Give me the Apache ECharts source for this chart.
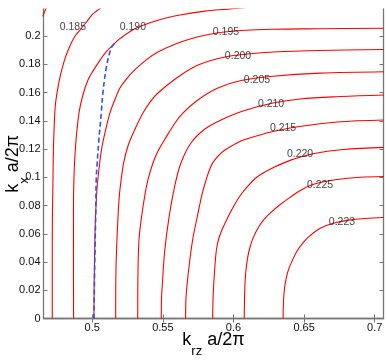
<!DOCTYPE html>
<html><head><meta charset="utf-8">
<script src="https://cdn.jsdelivr.net/npm/echarts@6/dist/echarts.min.js"></script>
<style>html,body{margin:0;padding:0;background:#fff}#c{width:387px;height:360px}</style>
</head><body><div id="c"></div>
<script>
// axis ranges and tick labels
const xRange = [0.4655, 0.7062];
const yRange = [0, 0.2192];
const xTicks = [0.5, 0.55, 0.6, 0.65, 0.7];
const yTicks = [0, 0.02, 0.04, 0.06, 0.08, 0.1, 0.12, 0.14, 0.16, 0.18, 0.2];

// contour lines [k_rz a/2pi, k_x a/2pi]
const c180 = [[0.4650,0.2140],[0.4660,0.2165],[0.4670,0.2190],[0.4674,0.2202]];
const c185 = [[0.4717,0],[0.4717,0.0414],[0.4718,0.0712],[0.4722,0.0981],[0.4725,0.1193],[0.4731,0.1370],[0.4739,0.1512],[0.4754,0.1618],[0.4775,0.1724],[0.4800,0.1817],[0.4824,0.1887],[0.4870,0.1987],[0.4913,0.2043],[0.4959,0.2100],[0.5005,0.2157],[0.5055,0.2195],[0.5062,0.2202]];
const c190 = [[0.4868,0],[0.4867,0.0414],[0.4867,0.0712],[0.4870,0.0981],[0.4882,0.1222],[0.4906,0.1455],[0.4934,0.1583],[0.4970,0.1689],[0.5005,0.1752],[0.5055,0.1830],[0.5097,0.1887],[0.5147,0.1938],[0.5196,0.1982],[0.5309,0.2055],[0.5465,0.2113],[0.5621,0.2149],[0.5798,0.2177],[0.5961,0.2191],[0.6081,0.2202]];
const c195 = [[0.5012,0],[0.5014,0.0273],[0.5019,0.0556],[0.5023,0.0712],[0.5033,0.0910],[0.5047,0.1052],[0.5065,0.1193],[0.5090,0.1315],[0.5125,0.1455],[0.5168,0.1569],[0.5196,0.1632],[0.5239,0.1692],[0.5288,0.1748],[0.5380,0.1830],[0.5465,0.1887],[0.5607,0.1951],[0.5749,0.1996],[0.5904,0.2026],[0.6053,0.2040],[0.6279,0.2049],[0.6612,0.2052],[0.7065,0.2056]];
const c200 = [[0.5166,0],[0.5168,0.0343],[0.5175,0.0556],[0.5182,0.0712],[0.5192,0.0870],[0.5205,0.0985],[0.5222,0.1100],[0.5253,0.1222],[0.5300,0.1335],[0.5359,0.1455],[0.5409,0.1533],[0.5465,0.1597],[0.5607,0.1710],[0.5749,0.1795],[0.5940,0.1852],[0.6117,0.1875],[0.6279,0.1887],[0.6612,0.1898],[0.7065,0.1905]];
const c205 = [[0.5322,0],[0.5324,0.0343],[0.5331,0.0556],[0.5348,0.0712],[0.5373,0.0875],[0.5394,0.0981],[0.5430,0.1101],[0.5465,0.1185],[0.5515,0.1271],[0.5586,0.1385],[0.5642,0.1455],[0.5748,0.1548],[0.5890,0.1632],[0.6053,0.1685],[0.6279,0.1716],[0.6612,0.1738],[0.7065,0.1748]];
const c210 = [[0.5489,0],[0.5490,0.0131],[0.5496,0.0237],[0.5513,0.0478],[0.5543,0.0712],[0.5584,0.0938],[0.5628,0.1101],[0.5699,0.1243],[0.5798,0.1342],[0.5911,0.1406],[0.6067,0.1470],[0.6280,0.1526],[0.6471,0.1555],[0.6754,0.1572],[0.7066,0.1583]];
const c215 = [[0.5661,0],[0.5663,0.0131],[0.5671,0.0237],[0.5690,0.0407],[0.5713,0.0570],[0.5742,0.0712],[0.5784,0.0905],[0.5841,0.1080],[0.5890,0.1150],[0.5940,0.1193],[0.6053,0.1257],[0.6174,0.1296],[0.6280,0.1324],[0.6492,0.1363],[0.6733,0.1392],[0.7065,0.1406]];
const c220 = [[0.5853,0],[0.5855,0.0131],[0.5862,0.0273],[0.5878,0.0478],[0.5897,0.0570],[0.5926,0.0645],[0.5961,0.0718],[0.6004,0.0800],[0.6053,0.0878],[0.6103,0.0940],[0.6152,0.0990],[0.6210,0.1030],[0.6280,0.1068],[0.6400,0.1120],[0.6563,0.1167],[0.6775,0.1197],[0.7066,0.1212]];
const c225 = [[0.6076,0],[0.6078,0.0131],[0.6081,0.0237],[0.6088,0.0340],[0.6100,0.0430],[0.6118,0.0510],[0.6143,0.0580],[0.6175,0.0643],[0.6215,0.0700],[0.6265,0.0752],[0.6329,0.0806],[0.6400,0.0858],[0.6470,0.0905],[0.6542,0.0942],[0.6613,0.0963],[0.6733,0.0985],[0.6896,0.1000],[0.7066,0.1006]];
const c230 = [[0.6351,0],[0.6353,0.0096],[0.6358,0.0181],[0.6368,0.0259],[0.6386,0.0336],[0.6418,0.0414],[0.6450,0.0478],[0.6492,0.0535],[0.6528,0.0574],[0.6584,0.0620],[0.6648,0.0655],[0.6726,0.0680],[0.6804,0.0695],[0.6931,0.0708],[0.7066,0.0715]];

// blue dashed curve
const blueCurve = [[0.5012,0],[0.5016,0.0273],[0.5021,0.0556],[0.5025,0.0747],[0.5028,0.0981],[0.5035,0.1101],[0.5047,0.1264],[0.5064,0.1455],[0.5076,0.1604],[0.5099,0.1774],[0.5123,0.1880],[0.5139,0.1923],[0.5160,0.1951]];

// contour labels (text and the data point each one sits on)
const labelText = ['0.185','0.190','0.195','0.200','0.205','0.210','0.215','0.220','0.225','0.223'];
const labelKrz = [0.4863,0.5288,0.5947,0.6032,0.6166,0.6266,0.6351,0.6471,0.6613,0.6768];
const labelKx  = [0.2067,0.2067,0.2031,0.1859,0.1691,0.1519,0.1349,0.1165,0.0948,0.0683];

const contours = [c180,c185,c190,c195,c200,c205,c210,c215,c220,c225,c230];

const FONT = "'Liberation Sans', Arial, Helvetica, sans-serif";
const axisColor = '#777';
const fmt = v => String(+(+v).toFixed(4));

const chart = echarts.init(document.getElementById('c'), null, {renderer:'canvas'});

const titleRich = {
  i: {fontSize: 18, fontFamily: FONT, color: '#000', lineHeight: 20, verticalAlign: 'top'},
  s: {fontSize: 13, fontFamily: FONT, color: '#000', lineHeight: 12, verticalAlign: 'top', padding: [13,0,0,0]}
};

function baseAxis(extra) {
  return Object.assign({
    type: 'value',
    nameMoveOverlap: false,
    axisLine: {show: true, lineStyle: {color: axisColor, width: 1.3}},
    splitLine: {show: false}
  }, extra);
}

const series = contours.map(c => ({
  type: 'line', data: c, showSymbol: false, smooth: 0.35, silent: true,
  lineStyle: {color: '#ff0000', width: 1.1}, z: 2
}));
series.push({
  type: 'line', data: blueCurve, showSymbol: false, smooth: 0.35, silent: true,
  lineStyle: {color: '#2f4ff5', width: 1.6, type: [5,3]}, z: 3
});
series.push({
  type: 'scatter', silent: true, symbol: 'circle', symbolSize: 1, z: 4,
  itemStyle: {color: 'rgba(0,0,0,0)'},
  data: labelKrz.map((x,i) => ({value: [x, labelKx[i]], name: labelText[i]})),
  label: {show: true, position: 'inside', formatter: p => p.name, fontSize: 10.5, fontFamily: FONT, color: '#111'}
});

chart.setOption({
  animation: false,
  backgroundColor: '#fff',
  grid: {left: 43.5, right: 3.5, top: 9, bottom: 41.5, containLabel: false, outerBoundsMode: 'none'},
  xAxis: [
    baseAxis({
      position: 'bottom', min: xRange[0], max: xRange[1],
      axisTick: {show: true, inside: true, length: 4, lineStyle: {color: axisColor}, customValues: xTicks},
      axisLabel: {customValues: xTicks, formatter: fmt, fontSize: 11, fontFamily: FONT, color: '#111', margin: 4},
      name: '{i|k}{s|rz}{i| a/2π}', nameLocation: 'middle', nameGap: 13,
      nameTextStyle: {rich: titleRich}
    }),
    baseAxis({
      position: 'top', min: xRange[0], max: xRange[1],
      axisTick: {show: true, inside: true, length: 4, lineStyle: {color: axisColor}, customValues: xTicks},
      axisLabel: {show: false}
    })
  ],
  yAxis: [
    baseAxis({
      position: 'left', min: yRange[0], max: yRange[1],
      axisTick: {show: true, inside: true, length: 4, lineStyle: {color: axisColor}, customValues: yTicks},
      axisLabel: {customValues: yTicks, formatter: fmt, fontSize: 11, fontFamily: FONT, color: '#111', margin: 3},
      name: '{i|k}{s|x}{i| a/2π}', nameLocation: 'middle', nameGap: 19, nameRotate: 90,
      nameTextStyle: {rich: titleRich}
    }),
    baseAxis({
      position: 'right', min: yRange[0], max: yRange[1],
      axisTick: {show: true, inside: true, length: 4, lineStyle: {color: axisColor}, customValues: yTicks},
      axisLabel: {show: false}
    })
  ],
  series: series
});
</script>
</body></html>
